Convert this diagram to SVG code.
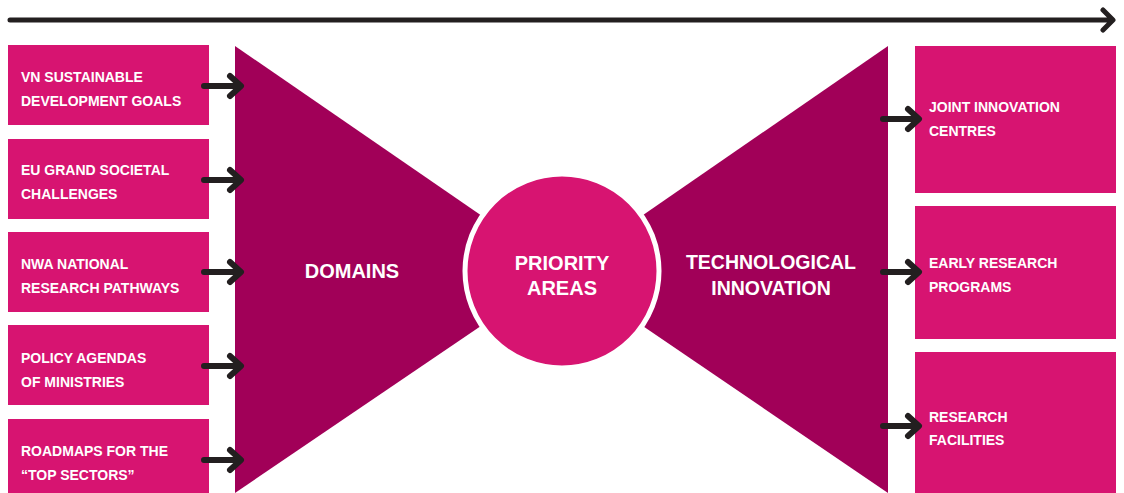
<svg xmlns="http://www.w3.org/2000/svg" width="1124" height="493" viewBox="0 0 1124 493">
<defs>
<style>
.box{fill:#d71471}
.fun{fill:#a10058}
.t{font-family:"Liberation Sans",Arial,sans-serif;font-weight:bold;fill:#fff;font-size:14px}
.big{font-family:"Liberation Sans",Arial,sans-serif;font-weight:bold;fill:#fff;font-size:20px;text-anchor:middle}
.arr{fill:none;stroke:#231f20;stroke-width:6;stroke-linecap:round;stroke-linejoin:round}
</style>
</defs>
<rect width="1124" height="493" fill="#fff"/>
<g id="timeline">
<path class="arr" d="M10 20 H1110 M1103 10 L1113 20 L1103 30" style="stroke-width:5"/>
</g>
<g id="domains">
<polygon class="fun" points="235,46 562,271 235,493"/>
<text class="big" x="352" y="278">DOMAINS</text>
</g>
<g id="technological-innovation">
<polygon class="fun" points="888,46 562,271 888,493"/>
<text class="big" x="771" y="269" style="font-size:19.5px">TECHNOLOGICAL</text>
<text class="big" x="771" y="295" style="font-size:19.5px">INNOVATION</text>
</g>
<g id="priority-areas">
<circle cx="562" cy="271" r="97" fill="#d71471" stroke="#fff" stroke-width="5"/>
<text class="big" x="562" y="270">PRIORITY</text>
<text class="big" x="562" y="295">AREAS</text>
</g>
<g id="vn-sdg">
<rect class="box" x="8" y="45" width="201" height="80"/>
<text class="t" x="21" y="82">VN SUSTAINABLE</text>
<text class="t" x="21" y="106">DEVELOPMENT GOALS</text>
</g>
<g id="eu-challenges">
<rect class="box" x="8" y="139" width="201" height="80"/>
<text class="t" x="21" y="175">EU GRAND SOCIETAL</text>
<text class="t" x="21" y="199">CHALLENGES</text>
</g>
<g id="nwa">
<rect class="box" x="8" y="232" width="201" height="80"/>
<text class="t" x="21" y="269">NWA NATIONAL</text>
<text class="t" x="21" y="293">RESEARCH PATHWAYS</text>
</g>
<g id="policy">
<rect class="box" x="8" y="325" width="201" height="80"/>
<text class="t" x="21" y="363">POLICY AGENDAS</text>
<text class="t" x="21" y="387">OF MINISTRIES</text>
</g>
<g id="roadmaps">
<rect class="box" x="8" y="419" width="201" height="80"/>
<text class="t" x="21" y="456">ROADMAPS FOR THE</text>
<text class="t" x="21" y="480">“TOP SECTORS”</text>
</g>
<g id="joint-innovation">
<rect class="box" x="915" y="46" width="201" height="147"/>
<text class="t" x="929" y="112">JOINT INNOVATION</text>
<text class="t" x="929" y="136">CENTRES</text>
</g>
<g id="early-research">
<rect class="box" x="915" y="206" width="201" height="133"/>
<text class="t" x="929" y="268">EARLY RESEARCH</text>
<text class="t" x="929" y="292">PROGRAMS</text>
</g>
<g id="research-facilities">
<rect class="box" x="915" y="352" width="201" height="141"/>
<text class="t" x="929" y="422">RESEARCH</text>
<text class="t" x="929" y="445">FACILITIES</text>
</g>
<g id="connectors">
<path class="arr" d="M204 86 H240 M230 76 L241 86 L230 96"/>
<path class="arr" d="M204 180 H240 M230 170 L241 180 L230 190"/>
<path class="arr" d="M204 272 H240 M230 262 L241 272 L230 282"/>
<path class="arr" d="M204 366 H240 M230 356 L241 366 L230 376"/>
<path class="arr" d="M204 460 H240 M230 450 L241 460 L230 470"/>
<path class="arr" d="M883 119 H918 M908 109 L919 119 L908 129"/>
<path class="arr" d="M883 272 H918 M908 262 L919 272 L908 282"/>
<path class="arr" d="M883 426 H918 M908 416 L919 426 L908 436"/>
</g>
</svg>
